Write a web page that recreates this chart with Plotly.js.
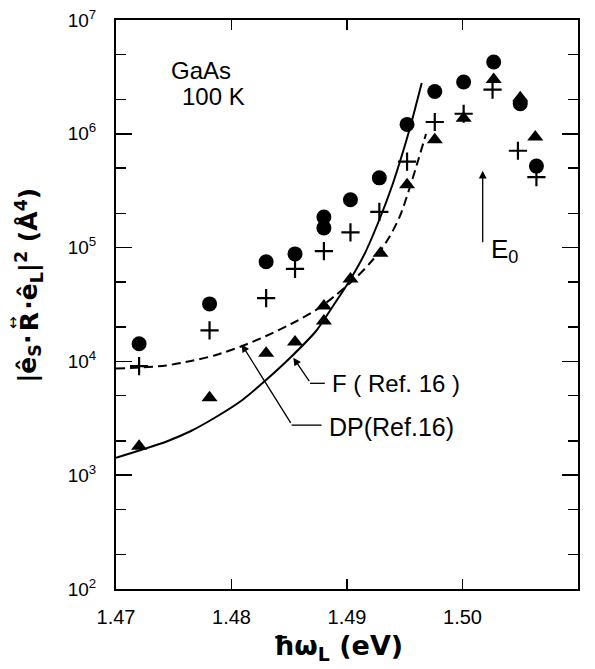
<!DOCTYPE html>
<html>
<head>
<meta charset="utf-8">
<script src="https://cdn.plot.ly/plotly-3.0.1.min.js"></script>
<style>html,body{margin:0;padding:0;background:#fff;}#chart{width:595px;height:669px;}</style>
</head>
<body>
<div id="chart"></div>
<script>
// Measured points (photon energy in eV, |e_S·R·e_L|^2 in Å^4)
const circleX = [1.4720, 1.4781, 1.4830, 1.4855, 1.4880, 1.4880, 1.4903, 1.4928, 1.4952, 1.4976, 1.5001, 1.5027, 1.5050, 1.5064];
const circleY = [1.43e4, 3.2e4, 7.5e4, 8.8e4, 1.86e5, 1.49e5, 2.63e5, 4.1e5, 1.21e6, 2.35e6, 2.85e6, 4.27e6, 1.84e6, 5.2e5];

const plusX = [1.4720, 1.4781, 1.4830, 1.4855, 1.4880, 1.4903, 1.4928, 1.4952, 1.4976, 1.5001, 1.5026, 1.5048, 1.5064];
const plusY = [9.1e3, 1.87e4, 3.6e4, 6.5e4, 9.3e4, 1.36e5, 2.06e5, 5.7e5, 1.27e6, 1.5e6, 2.44e6, 7.1e5, 4.17e5];

const triX = [1.4720, 1.4781, 1.4830, 1.4855, 1.4880, 1.4880, 1.4903, 1.4929, 1.4952, 1.4976, 1.5001, 1.5027, 1.5050, 1.5063];
const triY = [1.8e3, 4.8e3, 1.18e4, 1.48e4, 3.06e4, 2.26e4, 5.3e4, 8.9e4, 3.57e5, 8.86e5, 1.37e6, 3.0e6, 2.07e6, 9.36e5];

// Theory curves (Ref. 16)
const fX = [1.47000, 1.47216, 1.47433, 1.47649, 1.47866, 1.48082, 1.48299, 1.48515, 1.48732, 1.48879, 1.49026, 1.49156, 1.49286, 1.49390, 1.49468, 1.49545, 1.49647];
const fY = [1425, 1665, 1970, 2446, 3246, 4487, 6864, 10930, 18500, 30680, 51920, 89660, 182000, 347700, 612900, 1.125e6, 2.795e6];

const dpX = [1.47000, 1.47216, 1.47433, 1.47649, 1.47866, 1.48082, 1.48299, 1.48515, 1.48732, 1.48905, 1.49084, 1.49199, 1.49286, 1.49372, 1.49459, 1.49545, 1.49617, 1.49684];
const dpY = [8661, 8838, 9204, 10080, 11380, 13520, 16720, 21310, 28290, 38320, 55160, 73240, 93350, 126500, 189600, 340800, 588700, 995900];

// Axis ticks
const xTickVals = [1.47, 1.48, 1.49, 1.50, 1.51];
const xTickText = ['1.47', '1.48', '1.49', '1.50', '1.51'];
const yTickVals = [1e2, 1e3, 1e4, 1e5, 1e6, 1e7];
const yTickText = ['10<sup>2</sup>', '10<sup>3</sup>', '10<sup>4</sup>', '10<sup>5</sup>', '10<sup>6</sup>', '10<sup>7</sup>'];
const yMinorVals = [2e2, 5e2, 2e3, 5e3, 2e4, 5e4, 2e5, 5e5, 2e6, 5e6];

const FONT = 'Liberation Sans, Arial, sans-serif';
const TFONT = 'DejaVu Sans, sans-serif';
const BLACK = '#000';

const traces = [
  {x: [], y: [], xaxis: 'x', yaxis: 'y2', mode: 'markers', hoverinfo: 'skip'},
  {x: fX, y: fY, mode: 'lines', line: {color: BLACK, width: 2, shape: 'spline', smoothing: 0.8}, hoverinfo: 'skip'},
  {x: dpX, y: dpY, mode: 'lines', line: {color: BLACK, width: 2, dash: '9px,5px', shape: 'spline', smoothing: 0.8}, hoverinfo: 'skip'},
  {x: circleX, y: circleY, mode: 'markers', marker: {symbol: 'circle', size: 15, color: BLACK}},
  {x: plusX, y: plusY, mode: 'markers', marker: {symbol: 'cross-thin', size: 13, line: {color: BLACK, width: 2.2}}},
  {x: triX, y: triY, mode: 'markers', marker: {symbol: 'triangle-up', size: 14, color: BLACK}}
];

const titleX = -0.1877;
const layout = {
  width: 595, height: 669,
  margin: {l: 116, r: 17, t: 20, b: 80},
  paper_bgcolor: '#fff', plot_bgcolor: '#fff',
  showlegend: false,
  font: {family: FONT, color: BLACK},
  xaxis: {
    range: [1.47, 1.51], tickvals: xTickVals, ticktext: xTickText,
    ticks: 'inside', ticklen: 10, tickwidth: 1.5, tickcolor: BLACK,
    showline: true, linewidth: 2, linecolor: BLACK, mirror: 'ticks',
    showgrid: false, zeroline: false,
    tickfont: {size: 20, family: FONT, color: BLACK}, ticklabelstandoff: 9
  },
  yaxis: {
    type: 'log', range: [2, 7], tickvals: yTickVals, ticktext: yTickText,
    ticks: 'inside', ticklen: 16, tickwidth: 1.5, tickcolor: BLACK,
    showline: true, linewidth: 2, linecolor: BLACK, mirror: 'ticks',
    showgrid: false, zeroline: false,
    tickfont: {size: 19, family: FONT, color: BLACK}, ticklabelstandoff: 14
  },
  yaxis2: {
    type: 'log', range: [2, 7], overlaying: 'y', side: 'left',
    tickvals: yMinorVals, showticklabels: false,
    ticks: 'inside', ticklen: 10, tickwidth: 1.5, tickcolor: BLACK,
    showline: true, linewidth: 2, linecolor: BLACK, mirror: 'ticks',
    showgrid: false, zeroline: false
  },
  annotations: [
    {xref: 'paper', yref: 'paper', x: 0.184, y: 0.912, text: 'GaAs', showarrow: false, font: {size: 24}, xanchor: 'center', yanchor: 'middle'},
    {xref: 'paper', yref: 'paper', x: 0.212, y: 0.865, text: '100 K', showarrow: false, font: {size: 24}, xanchor: 'center', yanchor: 'middle'},
    {xref: 'paper', yref: 'paper', x: 0.807, y: 0.595, text: 'E<sub>0</sub>', showarrow: false, font: {size: 26}, xanchor: 'left', yanchor: 'middle'},
    {xref: 'paper', yref: 'paper', x: 0.463, y: 0.362, text: 'F ( Ref. 16 )', showarrow: false, font: {size: 24}, xanchor: 'left', yanchor: 'middle'},
    {xref: 'paper', yref: 'paper', x: 0.457, y: 0.285, text: 'DP(Ref.16)', showarrow: false, font: {size: 25}, xanchor: 'left', yanchor: 'middle'},
    // arrows
    {x: 1.48535, y: 4.0325, text: '', showarrow: true, ax: 17, ay: 25, arrowhead: 2, arrowsize: 1.2, arrowwidth: 1.3, arrowcolor: BLACK},
    {x: 1.48088, y: 4.149, text: '', showarrow: true, ax: 50, ay: 80, arrowhead: 2, arrowsize: 1.2, arrowwidth: 1.3, arrowcolor: BLACK},
    {x: 1.50175, y: 5.675, text: '', showarrow: true, ax: 0, ay: 73, arrowhead: 2, arrowsize: 1.2, arrowwidth: 1.3, arrowcolor: BLACK},
    // y-axis title, in three pieces around the tensor R
    {xref: 'paper', yref: 'paper', x: titleX, y: 0.4508, textangle: -90, showarrow: false, xanchor: 'center', yanchor: 'top',
     text: '<b>|ê<sub>S</sub>·</b>', font: {size: 25, family: TFONT}},
    {xref: 'paper', yref: 'paper', x: titleX, y: 0.4692, textangle: -90, showarrow: false, xanchor: 'center', yanchor: 'middle',
     text: '<b>R</b>', font: {size: 25, family: TFONT}},
    {xref: 'paper', yref: 'paper', x: titleX, y: 0.4877, textangle: -90, showarrow: false, xanchor: 'center', yanchor: 'bottom',
     text: '<b>·ê<sub>L</sub>|<sup>2</sup> (Å<sup>4</sup>)</b>', font: {size: 25, family: TFONT}},
    // tensor double arrow above R
    {xref: 'paper', yref: 'paper', x: -0.2208, y: 0.4675, showarrow: false, xanchor: 'center', yanchor: 'middle',
     text: '↕', font: {size: 15, family: TFONT}},
    {xref: 'paper', yref: 'paper', x: 0.48, y: -0.103, showarrow: false, xanchor: 'center', yanchor: 'middle',
     text: '<b>ħω<sub>L</sub> (eV)</b>', font: {size: 27, family: TFONT}}
  ],
  shapes: [
    {type: 'line', xref: 'paper', yref: 'paper', x0: 0.42, x1: 0.452, y0: 0.3615, y1: 0.3615, line: {color: BLACK, width: 1.3}},
    {type: 'line', xref: 'paper', yref: 'paper', x0: 0.380, x1: 0.445, y0: 0.288, y1: 0.288, line: {color: BLACK, width: 1.3}}
  ]
};

Plotly.newPlot('chart', traces, layout, {staticPlot: true, displayModeBar: false});
</script>
</body>
</html>
